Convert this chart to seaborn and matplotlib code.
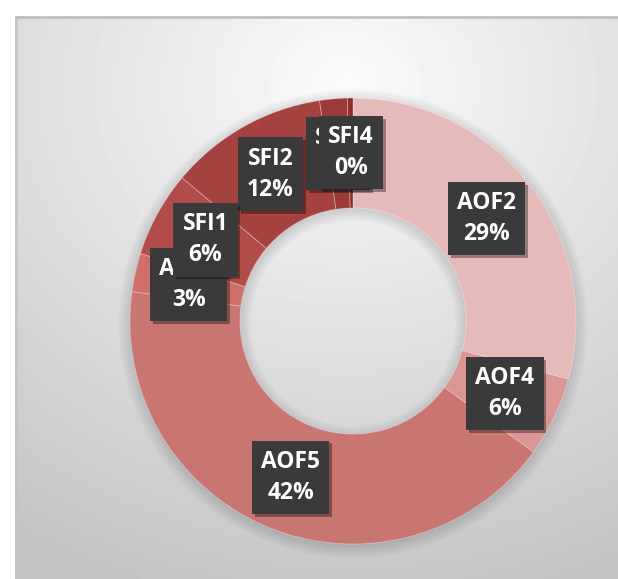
import matplotlib
matplotlib.use("Agg")
import matplotlib.pyplot as plt
import matplotlib.patheffects as pe
import numpy as np
import seaborn as sns

# slice data, clockwise from 12 o'clock
categories = ["AOF2", "AOF4", "AOF5", "AOF6", "SFI1", "SFI2", "SFI3", "SFI4"]
shares = [29.2, 5.8, 42.1, 2.8, 6.2, 11.5, 2.0, 0.4]
slice_colors = ["#E5BBBA", "#DA9695", "#C97572", "#CE6F6C",
                "#B24C4A", "#A44240", "#9C3A39", "#8B2D2D"]
# stacking order of the data labels (higher is drawn on top)
label_z = [3, 3, 3, 4, 6, 5, 7, 8]

sns.set_style("white")
plt.rcParams["font.family"] = ["Open Sans", "DejaVu Sans"]

W, H = 618, 579
fig = plt.figure(figsize=(W / 100, H / 100), dpi=100)
fig.patch.set_facecolor("white")

# gradient chart-area background
px0, py0 = 15, 16
bg = fig.add_axes([px0 / W, 0, 1 - px0 / W, 1 - py0 / H])
gw, gh = W - px0, H - py0
yy, xx = np.mgrid[0:gh, 0:gw]
d = np.sqrt(((xx - 330) / 1.15) ** 2 + (yy - 70) ** 2)
val = np.clip(251 - 0.105 * d, 196, 251) / 255.0
bg.imshow(val, cmap="gray", vmin=0, vmax=1, aspect="auto",
          extent=(0, gw, gh, 0), interpolation="bilinear")
bg.set_xlim(0, gw)
bg.set_ylim(gh, 0)
bg.set_axis_off()
bg.plot([0, gw], [0.8, 0.8], color="#BDBDBD", lw=1.8, solid_capstyle="butt")
bg.plot([0.8, 0.8], [0, gh], color="#C4C4C4", lw=1.8, solid_capstyle="butt")

# donut axes
cx, cy, R = 353, 321, 223
ax = fig.add_axes([(cx - R) / W, (H - cy - R) / H, 2 * R / W, 2 * R / H])
ax.set_axis_off()
ax.patch.set_alpha(0)

# soft shadow under the ring
for k in range(6):
    ax.pie([1], radius=1.0 + 0.01 * k, colors=["black"], center=(0.0, -0.012),
           wedgeprops=dict(width=0.49 + 0.02 * k, alpha=0.025, linewidth=0))

wedges, texts, autotexts = ax.pie(
    shares,
    colors=slice_colors,
    startangle=90,
    counterclock=False,
    radius=1.0,
    pctdistance=0.755,
    autopct=lambda p: f"{p:.0f}%",
    wedgeprops=dict(width=0.493, edgecolor=(1, 1, 1, 0.35), linewidth=0.6),
)

for name, at, z in zip(categories, autotexts, label_z):
    at.set_text(f"{name}\n{at.get_text()}")
    at.set_color("white")
    at.set_fontsize(16.5)
    at.set_fontweight("bold")
    at.set_linespacing(1.4)
    at.set_ha("center")
    at.set_va("center")
    at.set_zorder(10 + z)
    at.set_bbox(dict(boxstyle="square,pad=0.4", facecolor="#3A3A3A", edgecolor="none"))
    at.get_bbox_patch().set_path_effects(
        [pe.SimplePatchShadow(offset=(2, -2), shadow_rgbFace="black", alpha=0.35), pe.Normal()]
    )

ax.set_xlim(-1, 1)
ax.set_ylim(-1, 1)

fig.savefig("out.png", dpi=100)
plt.close(fig)
